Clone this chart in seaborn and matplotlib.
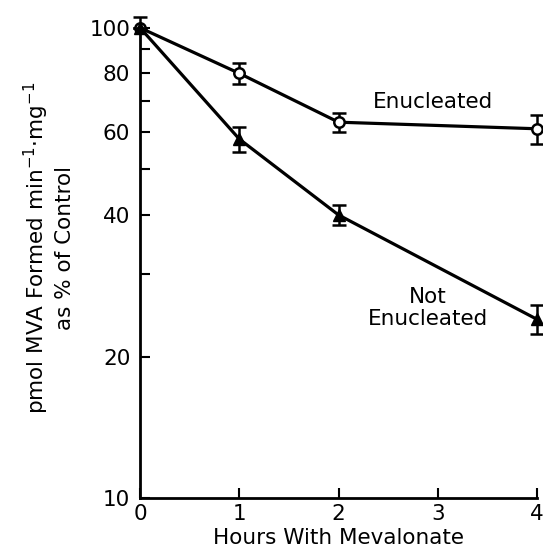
import matplotlib
matplotlib.use("Agg")
import matplotlib.pyplot as plt
import seaborn as sns
import pandas as pd
from matplotlib.ticker import FixedLocator, FixedFormatter, NullFormatter

hours = [0, 1, 2, 4]
enucleated = [100, 80, 63, 61]
enucleated_err_low = [0, 4.2, 3.0, 4.4]
enucleated_err_high = [0, 4.2, 3.0, 4.4]
not_enucleated = [100, 58, 40, 24]
not_enucleated_err_low = [0, 3.5, 2.0, 1.7]
not_enucleated_err_high = [5.5, 3.5, 2.0, 1.7]
y_major = [10, 20, 40, 60, 80, 100]
y_minor = [30, 50, 70, 90]
x_ticks = [0, 1, 2, 3, 4]

sns.set_style("ticks")
plt.rcParams['font.family'] = ['DejaVu Sans']
plt.rcParams.update({"text.color": "black", "axes.labelcolor": "black",
                     "xtick.color": "black", "ytick.color": "black",
                     "axes.edgecolor": "black"})

df = pd.DataFrame({
    "hours": hours * 2,
    "value": enucleated + not_enucleated,
    "group": ["Enucleated"] * len(hours) + ["Not Enucleated"] * len(hours),
})

fig = plt.figure(figsize=(5.43, 5.56), dpi=100)
ax = fig.add_axes([0.258, 0.104, 0.731, 0.846])

sns.lineplot(data=df, x="hours", y="value", hue="group",
             palette={"Enucleated": "black", "Not Enucleated": "black"},
             linewidth=2.3, legend=False, ax=ax, zorder=2)

ax.errorbar(hours, enucleated, yerr=[enucleated_err_low, enucleated_err_high],
            fmt="o", color="black", mfc="white", mec="black", mew=1.8, ms=7.5,
            capsize=5, capthick=1.8, elinewidth=1.8, zorder=4, clip_on=False)
ax.errorbar(hours, not_enucleated, yerr=[not_enucleated_err_low, not_enucleated_err_high],
            fmt="^", color="black", mfc="black", mec="black", ms=9,
            capsize=5, capthick=1.8, elinewidth=1.8, zorder=5, clip_on=False)

ax.set_yscale("log")
ax.set_xlim(0, 4)
ax.set_ylim(10, 100)
ax.yaxis.set_major_locator(FixedLocator(y_major))
ax.yaxis.set_major_formatter(FixedFormatter([str(v) for v in y_major]))
ax.yaxis.set_minor_locator(FixedLocator(y_minor))
ax.yaxis.set_minor_formatter(NullFormatter())
ax.set_xticks(x_ticks)
ax.set_xticklabels([str(v) for v in x_ticks])

ax.tick_params(axis="both", which="both", direction="in", length=7, width=1.5,
               labelsize=15.5)
ax.tick_params(axis="y", which="both", pad=7)
ax.tick_params(axis="x", which="both", pad=4)

for s in ["top", "right"]:
    ax.spines[s].set_visible(False)
for s in ["left", "bottom"]:
    ax.spines[s].set_linewidth(2)

ax.set_xlabel("Hours With Mevalonate", fontsize=15.5, labelpad=3)
ax.set_ylabel("pmol MVA Formed min$^{-1}$$\\cdot$mg$^{-1}$\nas % of Control",
              fontsize=15.5, linespacing=1.25)
ax.yaxis.set_label_coords(-0.163, 0.532)

ax.text(2.95, 69.5, "Enucleated", fontsize=15.5, ha="center", va="center")
ax.text(2.9, 25.4, "Not\nEnucleated", fontsize=15.5, ha="center", va="center",
        linespacing=1.15)

fig.savefig("out.png", dpi=100)
